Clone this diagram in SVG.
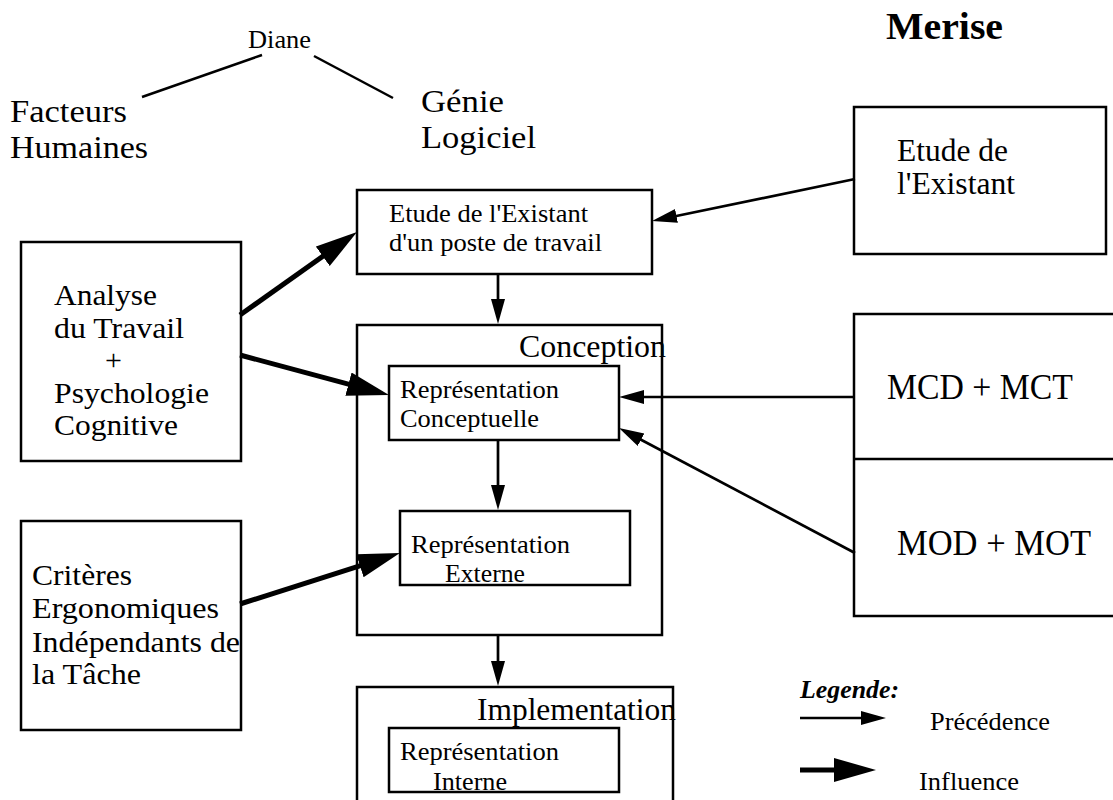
<svg xmlns="http://www.w3.org/2000/svg" width="1113" height="800" viewBox="0 0 1113 800">
  <style>
    text { font-family: "Liberation Serif", "Times New Roman", serif; fill: #000; }
    .lg { font-size: 32px; }
    .ml { font-size: 30px; }
    .md { font-size: 26px; }
    .xl { font-size: 36px; }
    .box { fill: none; stroke: #000; stroke-width: 2.5; }
    .prec { fill: none; stroke: #000; stroke-width: 2.7; marker-end: url(#headPrec); }
    .infl { fill: none; stroke: #000; stroke-width: 5; marker-end: url(#headInfl); }
    .plain { fill: none; stroke: #000; stroke-width: 2.5; }
  </style>
  <defs>
    <!-- thin head: precedence -->
    <marker id="headPrec" markerUnits="userSpaceOnUse" markerWidth="26" markerHeight="16" refX="15" refY="7" orient="auto">
      <path d="M0,0 L25,7 L0,14 z" fill="#000"/>
    </marker>
    <!-- wide head: influence -->
    <marker id="headInfl" markerUnits="userSpaceOnUse" markerWidth="44" markerHeight="26" refX="22" refY="12" orient="auto">
      <path d="M0,0 L42,12 L0,24 z" fill="#000"/>
    </marker>
  </defs>

  <rect x="0" y="0" width="1113" height="800" fill="#fff"/>

  <!-- header -->
  <g id="title">
    <text x="886" y="39" font-size="38" font-weight="bold" textLength="117" lengthAdjust="spacingAndGlyphs">Merise</text>
  </g>
  <g id="diane">
    <text x="248" y="48" font-size="25" textLength="63" lengthAdjust="spacingAndGlyphs">Diane</text>
    <line class="plain" x1="142" y1="97" x2="262" y2="55"/>
    <line class="plain" x1="314" y1="56" x2="393" y2="98"/>
  </g>
  <g id="facteurs-humaines">
    <text class="lg" x="10" y="122" textLength="117" lengthAdjust="spacingAndGlyphs">Facteurs</text>
    <text class="lg" x="10" y="158" textLength="138" lengthAdjust="spacingAndGlyphs">Humaines</text>
  </g>
  <g id="genie-logiciel">
    <text class="lg" x="421" y="112" textLength="83" lengthAdjust="spacingAndGlyphs">Génie</text>
    <text class="lg" x="421" y="148" textLength="115" lengthAdjust="spacingAndGlyphs">Logiciel</text>
  </g>

  <!-- left column -->
  <g id="analyse">
    <rect class="box" x="21" y="242" width="220" height="219"/>
    <text class="ml" x="54" y="305" textLength="103" lengthAdjust="spacingAndGlyphs">Analyse</text>
    <text class="ml" x="54" y="338" textLength="130" lengthAdjust="spacingAndGlyphs">du Travail</text>
    <text class="ml" x="105" y="370">+</text>
    <text class="ml" x="54" y="403" textLength="155" lengthAdjust="spacingAndGlyphs">Psychologie</text>
    <text class="ml" x="54" y="435" textLength="124" lengthAdjust="spacingAndGlyphs">Cognitive</text>
  </g>
  <g id="criteres">
    <rect class="box" x="21" y="521" width="220" height="209"/>
    <text class="ml" x="32" y="585" textLength="100" lengthAdjust="spacingAndGlyphs">Critères</text>
    <text class="ml" x="32" y="618" textLength="187" lengthAdjust="spacingAndGlyphs">Ergonomiques</text>
    <text class="ml" x="32" y="652" textLength="208" lengthAdjust="spacingAndGlyphs">Indépendants de</text>
    <text class="ml" x="32" y="684" textLength="109" lengthAdjust="spacingAndGlyphs">la Tâche</text>
  </g>

  <!-- centre column -->
  <g id="etude-poste">
    <rect class="box" x="357" y="190" width="295" height="84"/>
    <text class="md" x="389" y="222" textLength="199" lengthAdjust="spacingAndGlyphs">Etude de l'Existant</text>
    <text class="md" x="389" y="251" textLength="213" lengthAdjust="spacingAndGlyphs">d'un poste de travail</text>
  </g>
  <g id="conception">
    <rect class="box" x="357" y="325" width="305" height="310"/>
    <text class="lg" x="519" y="357" textLength="147" lengthAdjust="spacingAndGlyphs">Conception</text>
  </g>
  <g id="rep-conceptuelle">
    <rect class="box" x="389" y="366" width="230" height="74"/>
    <text class="md" x="400" y="398" textLength="159" lengthAdjust="spacingAndGlyphs">Représentation</text>
    <text class="md" x="400" y="427" textLength="139" lengthAdjust="spacingAndGlyphs">Conceptuelle</text>
  </g>
  <g id="rep-externe">
    <rect class="box" x="400" y="511" width="230" height="74"/>
    <text class="md" x="411" y="553" textLength="159" lengthAdjust="spacingAndGlyphs">Représentation</text>
    <text class="md" x="445" y="582" textLength="80" lengthAdjust="spacingAndGlyphs">Externe</text>
  </g>
  <g id="implementation">
    <rect class="box" x="357" y="687" width="316" height="130"/>
    <text class="lg" x="477" y="720" textLength="199" lengthAdjust="spacingAndGlyphs">Implementation</text>
  </g>
  <g id="rep-interne">
    <rect class="box" x="389" y="728" width="230" height="64"/>
    <text class="md" x="400" y="760" textLength="159" lengthAdjust="spacingAndGlyphs">Représentation</text>
    <text class="md" x="433" y="790" textLength="74" lengthAdjust="spacingAndGlyphs">Interne</text>
  </g>

  <!-- right column -->
  <g id="etude-existant">
    <rect class="box" x="854" y="107" width="252" height="147"/>
    <text class="lg" x="897" y="161" textLength="111" lengthAdjust="spacingAndGlyphs">Etude de</text>
    <text class="lg" x="897" y="194" textLength="118" lengthAdjust="spacingAndGlyphs">l'Existant</text>
  </g>
  <g id="mcd-mod">
    <rect class="box" x="854" y="314" width="270" height="302"/>
    <line class="plain" x1="854" y1="459" x2="1124" y2="459"/>
    <text class="xl" x="887" y="399" textLength="186" lengthAdjust="spacingAndGlyphs">MCD + MCT</text>
    <text class="xl" x="897" y="555" textLength="194" lengthAdjust="spacingAndGlyphs">MOD + MOT</text>
  </g>

  <!-- connectors -->
  <g id="connectors">
    <line class="infl" x1="240" y1="315" x2="340.7" y2="243.6"/>
    <line class="infl" x1="240" y1="355" x2="369.7" y2="389.8"/>
    <line class="infl" x1="240" y1="604" x2="380.9" y2="559.1"/>
    <line class="prec" x1="855" y1="179" x2="661.8" y2="219"/>
    <line class="prec" x1="498" y1="274" x2="498" y2="314"/>
    <line class="prec" x1="498" y1="440" x2="498" y2="500"/>
    <line class="prec" x1="498" y1="635" x2="498" y2="676"/>
    <line class="prec" x1="855" y1="397" x2="629" y2="397"/>
    <line class="prec" x1="855" y1="553" x2="627.8" y2="432.7"/>
  </g>

  <!-- legend -->
  <g id="legend">
    <text x="800" y="698" font-size="25" font-weight="bold" font-style="italic" textLength="99" lengthAdjust="spacingAndGlyphs">Legende:</text>
    <line class="prec" x1="800" y1="718" x2="876" y2="718"/>
    <text class="md" x="930" y="730" textLength="120" lengthAdjust="spacingAndGlyphs">Précédence</text>
    <line class="infl" x1="800" y1="770" x2="856" y2="770"/>
    <text class="md" x="919" y="790" textLength="100" lengthAdjust="spacingAndGlyphs">Influence</text>
  </g>
</svg>
